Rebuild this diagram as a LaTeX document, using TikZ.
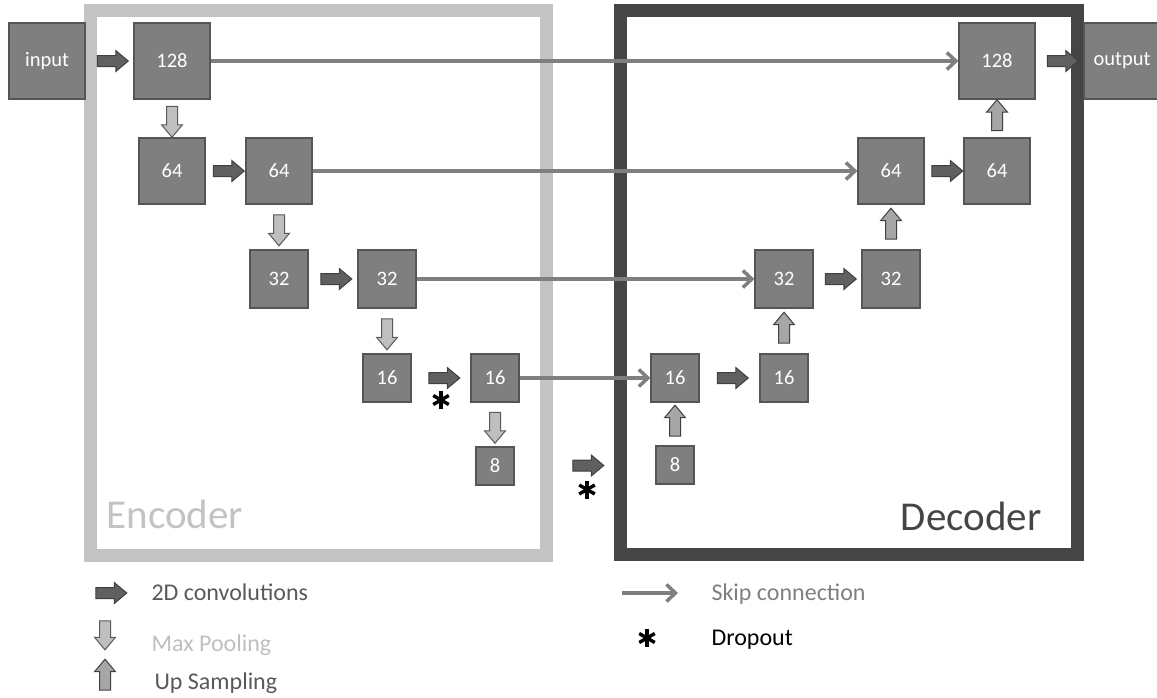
\documentclass[tikz,border=0pt]{standalone}
\usepackage{amsmath,amssymb}
\usepackage{fontspec}
\setmainfont{Carlito}
\usepackage{tikz}
\usetikzlibrary{arrows.meta,positioning,calc,shapes.arrows}
\definecolor{boxgray}{HTML}{7F7F7F}
\definecolor{boxedge}{HTML}{555555}
\definecolor{convfill}{HTML}{606060}
\definecolor{arrowedge}{HTML}{404040}
\definecolor{poolfill}{HTML}{BFBFBF}
\definecolor{upfill}{HTML}{A6A6A6}
\definecolor{encgray}{HTML}{C3C3C3}
\definecolor{decgray}{HTML}{454545}
\definecolor{skipgray}{HTML}{7F7F7F}
\definecolor{legtext}{HTML}{595959}

\begin{document}
\begin{tikzpicture}[x=1pt,y=-1pt,
  blk/.style={draw=boxedge,fill=boxgray,line width=1.2pt,text=white,inner sep=0pt,font=\fontsize{20.5}{24}\selectfont},
  blockarrow/.style={single arrow,draw=arrowedge,line width=1pt,inner sep=5pt,minimum width=20pt,
    single arrow head extend=5pt,single arrow head indent=0pt,single arrow tip angle=80},
  conv/.style={blockarrow,fill=convfill,minimum height=31pt},
  pool/.style={blockarrow,fill=poolfill,draw=legtext,minimum height=31pt,shape border rotate=270},
  upsmp/.style={blockarrow,fill=upfill,minimum height=31pt,shape border rotate=90},
  skip/.style={draw=skipgray,line width=3.5pt,-{Straight Barb[length=9pt,width=17pt]}},
  dropmark/.style={minimum size=18pt,inner sep=0pt,path picture={
    \foreach \ang in {90,30,150}
      \draw[black,line width=3.4pt] ($(path picture bounding box.center)+(\ang:9)$)
        -- ($(path picture bounding box.center)+(\ang+180:9)$);}},
  legend/.style={anchor=base west,font=\fontsize{24}{28}\selectfont},
  title/.style={font=\fontsize{41}{46}\selectfont}]
\useasboundingbox (0,0) rectangle (1157,697);

% frames
\draw[encgray,line width=13pt] (90.5,10.5) rectangle (546.5,555);
\draw[decgray,line width=13pt] (620.5,10.5) rectangle (1077,554.5);
\node[title,text=encgray,anchor=base west] (enc) at (103,528) {Encoder};
\node[title,text=decgray,anchor=base east] (dec) at (1045,530) {Decoder};

% encoder
\node[blk,minimum size=76pt] (in) at (47,61) {input};
\node[blk,minimum size=76pt] (e128) at (172,61) {128};
\node[blk,minimum size=66pt] (e64a) at (172,171) {64};
\node[blk,minimum size=66pt] (e64b) at (279,171) {64};
\node[blk,minimum size=58pt] (e32a) at (279,279) {32};
\node[blk,minimum size=58pt] (e32b) at (387,279) {32};
\node[blk,minimum size=48pt] (e16a) at (387,378) {16};
\node[blk,minimum size=48pt] (e16b) at (495,378) {16};
\node[blk,minimum size=38pt] (e8) at (495,466) {8};

% decoder
\node[blk,minimum size=38pt] (d8) at (675,465) {8};
\node[blk,minimum size=48pt] (d16a) at (675,378) {16};
\node[blk,minimum size=48pt] (d16b) at (784,378) {16};
\node[blk,minimum size=58pt] (d32a) at (784,279) {32};
\node[blk,minimum size=58pt] (d32b) at (891,279) {32};
\node[blk,minimum size=66pt] (d64a) at (891,171) {64};
\node[blk,minimum size=66pt] (d64b) at (997,171) {64};
\node[blk,minimum size=76pt] (d128) at (997,61) {128};
\node[blk,minimum size=76pt] (out) at (1122,61) {output};

\foreach \a/\b/\n in {in/e128/c1,e64a/e64b/c2,e32a/e32b/c3,e16a/e16b/c4,e8/d8/c5,
    d16a/d16b/c6,d32a/d32b/c7,d64a/d64b/c8,d128/out/c9}
  \node[conv] (\n) at ($(\a.east)!0.5!(\b.west)$) {};
\foreach \a/\b/\n in {e128/e64a/p1,e64b/e32a/p2,e32b/e16a/p3,e16b/e8/p4}
  \node[pool] (\n) at ($(\a.south)!0.5!(\b.north)$) {};
\foreach \a/\b/\n in {d8/d16a/u1,d16b/d32a/u2,d32b/d64a/u3,d64b/d128/u4}
  \node[upsmp] (\n) at ($(\a.north)!0.5!(\b.south)$) {};

\node[dropmark] (drop1) at ($(c4)+(0,22)$) {};
\node[dropmark] (drop2) at ($(c5)+(2,24)$) {};

% skip connections
\foreach \a/\b in {e128/d128,e64b/d64a,e32b/d32a,e16b/d16a}
  \draw[skip] (\a.east) -- (\b.west);

% legend
\node[conv] (lconv) at (108,593) {};
\node[pool,minimum height=29pt] (lpool) at (105,632) {};
\node[upsmp] (lup) at (105,678) {};
\node[legend,text=legtext] (tconv) at (148,600) {2D convolutions};
\node[legend,text=poolfill] (tpool) at (148,651) {Max Pooling};
\node[legend,text=legtext] (tup) at (151,689) {Up Sampling};
\coordinate (ls) at (622,593);
\coordinate (le) at (678,593);
\draw[skip] (ls) -- (le);
\node[legend,text=skipgray] (tskip) at (708,600) {Skip connection};
\node[dropmark,minimum size=17pt] (ldrop) at (647,638) {};
\node[legend] (tdrop) at (708,645) {Dropout};
\end{tikzpicture}
\end{document}
